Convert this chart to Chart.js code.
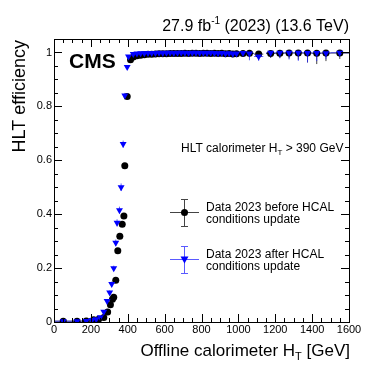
<!DOCTYPE html>
<html>
<head>
<meta charset="utf-8">
<script src="https://cdn.jsdelivr.net/npm/chart.js@4.4.1/dist/chart.umd.min.js"></script>
<style>
  body { margin: 0; background: #fff; }
  canvas { display: block; }
</style>
</head>
<body>
<canvas id="chart" width="389" height="378"></canvas>
<script>
const FONT = '"Liberation Sans", Arial, Helvetica, sans-serif';

// tick labels
const xTicks = [0, 200, 400, 600, 800, 1000, 1200, 1400, 1600];
const yTicks = [0, 0.2, 0.4, 0.6, 0.8, 1];

// Data 2023 before HCAL conditions update (black circles)
const htBefore = [50, 125, 175, 215, 242, 270, 291, 306, 317, 324, 335, 346, 357, 370, 379, 384, 397, 415,
  430, 450, 470, 490, 510, 530, 550, 570, 590, 610, 630, 650, 670, 690, 710, 730, 750, 770, 790, 810,
  830, 850, 870, 890, 910, 930, 950, 970, 990,
  1025, 1060, 1110, 1175, 1225, 1275, 1325, 1375, 1425, 1475, 1550];
const effBefore = [0.003, 0.003, 0.004, 0.008, 0.010, 0.017, 0.037, 0.064, 0.084, 0.092, 0.155, 0.264, 0.318, 0.363, 0.393, 0.580, 0.837, 0.973,
  0.983, 0.988, 0.990, 0.992, 0.993, 0.993, 0.994, 0.995, 0.995, 0.995, 0.996, 0.996, 0.996, 0.996, 0.997, 0.996, 0.997, 0.997, 0.996, 0.997,
  0.997, 0.996, 0.997, 0.996, 0.997, 0.995, 0.996, 0.994, 0.995,
  0.996, 0.997, 0.994, 0.996, 0.997, 0.998, 0.998, 0.998, 0.997, 0.998, 0.998];
const errBefore = [0.002, 0.002, 0.002, 0.003, 0.003, 0.004, 0.005, 0.006, 0.007, 0.007, 0.008, 0.009, 0.009, 0.009, 0.009, 0.009, 0.007, 0.004,
  0.003, 0.002, 0.002, 0.002, 0.002, 0.002, 0.002, 0.002, 0.002, 0.002, 0.002, 0.002, 0.002, 0.003, 0.003, 0.003, 0.003, 0.003, 0.004, 0.004,
  0.004, 0.005, 0.005, 0.005, 0.006, 0.007, 0.008, 0.010, 0.010,
  0.010, 0.012, 0.020, 0.016, 0.018, 0.020, 0.025, 0.035, 0.040, 0.030, 0.022];
const binBefore = [50, 25, 25, 10, 10, 10, 5, 5, 5, 5, 5, 5, 5, 5, 5, 5, 5, 5,
  10, 10, 10, 10, 10, 10, 10, 10, 10, 10, 10, 10, 10, 10, 10, 10, 10, 10, 10, 10,
  10, 10, 10, 10, 10, 10, 10, 10, 10,
  25, 25, 25, 25, 25, 25, 25, 25, 25, 25, 50];

// Data 2023 after HCAL conditions update (blue triangles)
const htAfter = [50, 125, 175, 206, 229, 251, 270, 288, 302, 313, 324, 335, 342, 355, 364, 375, 384, 397, 404,
  430, 450, 470, 490, 510, 530, 550, 570, 590, 610, 630, 650, 670, 690, 710, 730, 750, 770, 790, 810,
  830, 850, 870, 890, 910, 930, 950, 970, 990,
  1025, 1060, 1110, 1175, 1225, 1275, 1325, 1375, 1425, 1475, 1550];
const effAfter = [0.003, 0.003, 0.004, 0.007, 0.010, 0.018, 0.038, 0.078, 0.109, 0.141, 0.199, 0.294, 0.368, 0.415, 0.500, 0.660, 0.840, 0.946, 0.985,
  0.994, 0.996, 0.997, 0.997, 0.998, 0.998, 0.998, 0.999, 0.998, 0.999, 0.999, 0.998, 0.999, 0.999, 0.999, 0.998, 0.999, 0.999, 0.998, 0.999,
  0.998, 0.999, 0.998, 0.997, 0.998, 0.996, 0.997, 0.995, 0.996,
  0.998, 0.996, 0.985, 0.999, 0.999, 0.999, 0.999, 0.998, 0.998, 0.997, 0.999];
const errAfter = [0.002, 0.002, 0.002, 0.003, 0.003, 0.004, 0.005, 0.007, 0.008, 0.009, 0.010, 0.012, 0.013, 0.013, 0.014, 0.013, 0.010, 0.006, 0.004,
  0.002, 0.002, 0.002, 0.002, 0.002, 0.002, 0.002, 0.002, 0.002, 0.002, 0.002, 0.002, 0.003, 0.003, 0.003, 0.003, 0.003, 0.004, 0.004,
  0.004, 0.005, 0.005, 0.005, 0.006, 0.007, 0.008, 0.010, 0.010,
  0.010, 0.012, 0.025, 0.016, 0.018, 0.020, 0.025, 0.030, 0.035, 0.030, 0.022];
const binAfter = [50, 25, 25, 10, 10, 10, 5, 5, 5, 5, 5, 5, 5, 5, 5, 5, 5, 5, 5,
  10, 10, 10, 10, 10, 10, 10, 10, 10, 10, 10, 10, 10, 10, 10, 10, 10, 10, 10, 10,
  10, 10, 10, 10, 10, 10, 10, 10, 10,
  25, 25, 25, 25, 25, 25, 25, 25, 25, 25, 50];

function points(xs, ys, es, ws) {
  return xs.map((v, i) => ({ x: v, y: ys[i], e: es[i], w: ws[i] }));
}

// draw text with a sub- or superscript part
function richText(ctx, parts, x, y, align) {
  let total = 0;
  parts.forEach(p => { ctx.font = p.font; total += ctx.measureText(p.t).width; });
  let cx = align === 'right' ? x - total : x;
  ctx.textAlign = 'left';
  parts.forEach(p => {
    ctx.font = p.font;
    ctx.fillText(p.t, cx, y + (p.dy || 0));
    cx += ctx.measureText(p.t).width;
  });
}

const overlay = {
  id: 'overlay',
  beforeDatasetsDraw(chart) {
    const { ctx, chartArea: a, scales: { x, y } } = chart;
    ctx.save();
    ctx.beginPath();
    ctx.rect(a.left, a.top, a.right - a.left, a.bottom - a.top);
    ctx.clip();
    chart.data.datasets.slice().reverse().forEach(ds => {
      ctx.strokeStyle = ds.barColor;
      ctx.lineWidth = 1;
      ds.data.forEach(p => {
        const px = x.getPixelForValue(p.x);
        const py = y.getPixelForValue(p.y);
        ctx.beginPath();
        ctx.moveTo(px, y.getPixelForValue(Math.max(0, p.y - p.e)));
        ctx.lineTo(px, y.getPixelForValue(Math.min(1, p.y + p.e)));
        ctx.moveTo(x.getPixelForValue(p.x - p.w), py);
        ctx.lineTo(x.getPixelForValue(p.x + p.w), py);
        ctx.stroke();
      });
    });
    ctx.restore();
  },
  afterDraw(chart) {
    const { ctx, chartArea: a, scales: { x, y } } = chart;
    ctx.save();
    ctx.strokeStyle = '#000';
    ctx.lineWidth = 1;
    ctx.beginPath();
    // ticks on all four sides, pointing inside
    for (let v = 0; v <= 1600; v += 50) {
      const px = Math.round(x.getPixelForValue(v)) + 0.5;
      const len = v % 200 === 0 ? 8 : 4;
      ctx.moveTo(px, a.bottom); ctx.lineTo(px, a.bottom - len);
      ctx.moveTo(px, a.top); ctx.lineTo(px, a.top + len);
    }
    for (let k = 0; k <= 21; k++) {
      const v = k * 0.05;
      const py = Math.round(y.getPixelForValue(v)) + 0.5;
      const len = k % 4 === 0 ? 8 : 4;
      ctx.moveTo(a.left, py); ctx.lineTo(a.left + len, py);
      ctx.moveTo(a.right, py); ctx.lineTo(a.right - len, py);
    }
    ctx.stroke();
    ctx.strokeRect(Math.round(a.left) + 0.5, Math.round(a.top) + 0.5,
      Math.round(a.right - a.left), Math.round(a.bottom - a.top));

    ctx.fillStyle = '#000';
    ctx.textBaseline = 'alphabetic';
    // CMS label
    ctx.font = 'bold 21px ' + FONT;
    ctx.textAlign = 'left';
    ctx.fillText('CMS', 69, 68);
    // luminosity title
    richText(ctx, [
      { t: '27.9 fb', font: '16px ' + FONT },
      { t: '-1', font: '10px ' + FONT, dy: -7 },
      { t: ' (2023) (13.6 TeV)', font: '16px ' + FONT }
    ], 349, 31, 'right');
    // x title
    richText(ctx, [
      { t: 'Offline calorimeter H', font: '17px ' + FONT },
      { t: 'T', font: '11px ' + FONT, dy: 4 },
      { t: ' [GeV]', font: '17px ' + FONT }
    ], 350, 356, 'right');
    // y title
    ctx.save();
    ctx.translate(25, 40);
    ctx.rotate(-Math.PI / 2);
    ctx.font = '18px ' + FONT;
    ctx.textAlign = 'right';
    ctx.fillText('HLT efficiency', 0, 0);
    ctx.restore();
    // selection text
    richText(ctx, [
      { t: 'HLT calorimeter H', font: '12px ' + FONT },
      { t: 'T', font: '8px ' + FONT, dy: 3 },
      { t: ' > 390 GeV', font: '12px ' + FONT }
    ], 181, 152, 'left');

    // legend
    const entries = [
      { y: 212.5, color: '#000', bar: '#444', tri: false, lines: ['Data 2023 before HCAL', 'conditions update'] },
      { y: 259.5, color: '#0000ff', bar: '#5a5aff', tri: true, lines: ['Data 2023 after HCAL', 'conditions update'] }
    ];
    entries.forEach(en => {
      ctx.strokeStyle = en.bar;
      ctx.beginPath();
      ctx.moveTo(184.5, en.y - 13); ctx.lineTo(184.5, en.y + 14);
      ctx.moveTo(170, en.y); ctx.lineTo(199, en.y);
      ctx.moveTo(181, en.y - 13); ctx.lineTo(188, en.y - 13);
      ctx.moveTo(181, en.y + 14); ctx.lineTo(188, en.y + 14);
      ctx.stroke();
      ctx.fillStyle = en.color;
      ctx.beginPath();
      if (en.tri) {
        ctx.moveTo(180.5, en.y - 3); ctx.lineTo(188.5, en.y - 3); ctx.lineTo(184.5, en.y + 4);
        ctx.closePath();
      } else {
        ctx.arc(184.5, en.y, 3.5, 0, Math.PI * 2);
      }
      ctx.fill();
      ctx.fillStyle = '#000';
      ctx.font = '12px ' + FONT;
      ctx.textAlign = 'left';
      ctx.fillText(en.lines[0], 206, en.y - 2);
      ctx.fillText(en.lines[1], 206, en.y + 10);
    });
    ctx.restore();
  }
};

new Chart(document.getElementById('chart'), {
  type: 'scatter',
  data: {
    datasets: [
      {
        label: 'Data 2023 after HCAL conditions update',
        data: points(htAfter, effAfter, errAfter, binAfter),
        pointStyle: 'triangle',
        rotation: 180,
        radius: 4,
        backgroundColor: '#0000ff',
        borderColor: '#0000ff',
        borderWidth: 0,
        barColor: 'rgba(40,40,255,0.75)',
        order: 0
      },
      {
        label: 'Data 2023 before HCAL conditions update',
        data: points(htBefore, effBefore, errBefore, binBefore),
        pointStyle: 'circle',
        radius: 3.5,
        backgroundColor: '#000',
        borderColor: '#000',
        borderWidth: 0,
        barColor: 'rgba(0,0,0,0.75)',
        order: 1
      }
    ]
  },
  options: {
    responsive: false,
    animation: false,
    events: [],
    layout: { padding: { top: 39, right: 40, left: 0, bottom: 0 } },
    plugins: { legend: { display: false }, tooltip: { enabled: false } },
    scales: {
      x: {
        type: 'linear',
        min: 0,
        max: 1600,
        grid: { display: false, drawTicks: false },
        border: { display: false },
        afterBuildTicks: s => { s.ticks = xTicks.map(v => ({ value: v })); },
        afterFit: s => { s.height = 56; },
        ticks: {
          color: '#000',
          font: { family: FONT, size: 11 },
          padding: 1,
          maxRotation: 0,
          autoSkip: false,
          callback: v => String(v)
        }
      },
      y: {
        type: 'linear',
        min: 0,
        max: 1.05,
        grid: { display: false, drawTicks: false },
        border: { display: false },
        afterBuildTicks: s => { s.ticks = yTicks.map(v => ({ value: v })); },
        afterFit: s => { s.width = 54; },
        ticks: {
          color: '#000',
          font: { family: FONT, size: 11 },
          padding: 2,
          autoSkip: false,
          callback: v => String(Math.round(v * 10) / 10)
        }
      }
    }
  },
  plugins: [overlay]
});
</script>
</body>
</html>
